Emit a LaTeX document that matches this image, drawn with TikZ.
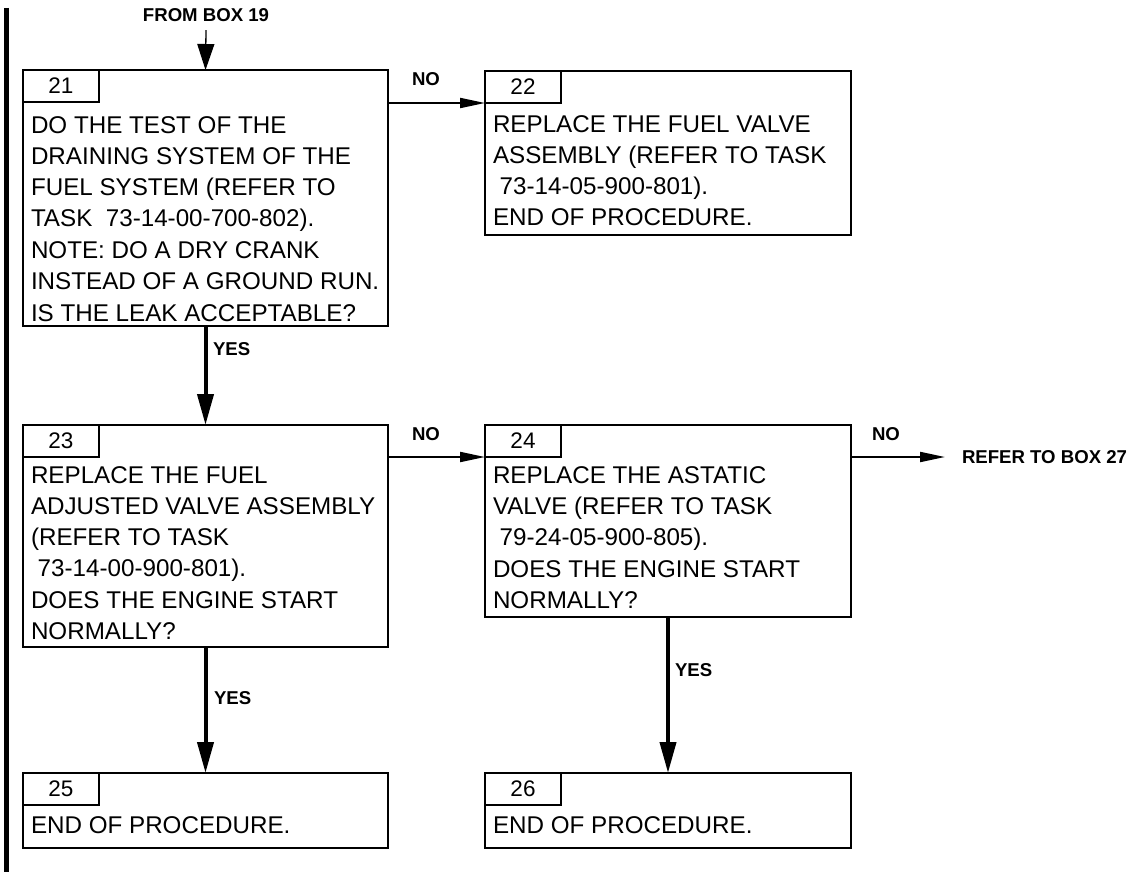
\documentclass[tikz,border=0pt]{standalone}
\usepackage{fontspec}
\setmainfont{Liberation Sans}
\usetikzlibrary{arrows.meta}
\begin{document}
\begin{tikzpicture}[x=1pt,y=-1pt,
  box/.style={draw, line width=2pt, inner sep=0pt, outer sep=0pt, anchor=north west},
  tab/.style={draw, line width=2pt, inner sep=0pt, outer sep=0pt, anchor=north west,
    minimum width=76pt, minimum height=32pt, font=\fontsize{22.5}{25}\selectfont},
  body/.style={anchor=base west, inner sep=0pt, outer sep=0pt, font=\fontsize{24.2}{31}\selectfont},
  lbl/.style={font=\bfseries\fontsize{18.6}{21}\selectfont, inner sep=0pt, outer sep=0pt},
  flow/.style={line width=4pt, -{Triangle[length=31pt,width=16pt]}},
  side/.style={line width=2pt, -{Triangle[length=25pt,width=10pt]}},
  feed/.style={line width=1.3pt, -{Triangle[length=26pt,width=17pt]}},
]
\useasboundingbox (0,0) rectangle (1129,875);

% change bar along the left margin
\draw[line width=4.5pt] (6.5,8) -- (6.5,872);

% box 21
\node[box, minimum width=365pt, minimum height=256pt] (b21) at (23,70) {};
\node[tab] (t21) at (b21.north west) {21};
\node[body] (x21) at (31,133) {\begin{tabular}[t]{@{}l@{}}DO THE TEST OF THE\\ DRAINING SYSTEM OF THE\\ FUEL SYSTEM (REFER TO\\ TASK\ \ 73-14-00-700-802).\\[1pt] NOTE: DO A DRY CRANK\\ INSTEAD OF A GROUND RUN.\\[1pt] IS THE LEAK ACCEPTABLE?\end{tabular}};

% box 22
\node[box, minimum width=366pt, minimum height=164pt] (b22) at (485,71) {};
\node[tab] (t22) at (b22.north west) {22};
\node[body] (x22) at (493,132) {\begin{tabular}[t]{@{}l@{}}REPLACE THE FUEL VALVE\\ ASSEMBLY (REFER TO TASK\\ \ 73-14-05-900-801).\\ END OF PROCEDURE.\end{tabular}};

% box 23
\node[box, minimum width=365pt, minimum height=222pt] (b23) at (23,425) {};
\node[tab] (t23) at (b23.north west) {23};
\node[body] (x23) at (31,483) {\begin{tabular}[t]{@{}l@{}}REPLACE THE FUEL\\ ADJUSTED VALVE ASSEMBLY\\ (REFER TO TASK\\ \ 73-14-00-900-801).\\[1pt] DOES THE ENGINE START\\ NORMALLY?\end{tabular}};

% box 24
\node[box, minimum width=366pt, minimum height=192pt] (b24) at (485,425) {};
\node[tab] (t24) at (b24.north west) {24};
\node[body] (x24) at (493,483) {\begin{tabular}[t]{@{}l@{}}REPLACE THE ASTATIC\\ VALVE (REFER TO TASK\\ \ 79-24-05-900-805).\\[1pt] DOES THE ENGINE START\\ NORMALLY?\end{tabular}};

% box 25
\node[box, minimum width=365pt, minimum height=75pt] (b25) at (23,773) {};
\node[tab] (t25) at (b25.north west) {25};
\node[body] (x25) at (31,833) {END OF PROCEDURE.};

% box 26
\node[box, minimum width=366pt, minimum height=75pt] (b26) at (485,773) {};
\node[tab] (t26) at (b26.north west) {26};
\node[body] (x26) at (493,833) {END OF PROCEDURE.};

% entry and exit labels
\node[lbl, anchor=base, inner ysep=8pt] (f19) at (206,22) {FROM BOX 19};
\node[lbl, anchor=west, inner xsep=17pt] (r27) at (945,457) {REFER TO BOX 27};

% connectors
\draw[feed] (f19.south) -- (b21.north);
\draw[side] (b21.east |- t22.south) -- (t22.south west);
\draw[side] (b23.east |- t24.south) -- (t24.south west);
\draw[side] (b24.east |- r27.west) -- (r27.west);
\draw[flow] (b21.south) -- (b23.north);
\draw[flow] (b23.south) -- (b25.north);
\draw[flow] (b24.south) -- (b26.north);

% connector labels
\node[lbl, anchor=base west] (n1) at (412,85) {NO};
\node[lbl, anchor=base west] (n2) at (412,440) {NO};
\node[lbl, anchor=base west] (n3) at (872,440) {NO};
\node[lbl, anchor=base west] (y1) at (213,355) {YES};
\node[lbl, anchor=base west] (y2) at (214,704) {YES};
\node[lbl, anchor=base west] (y3) at (675,676) {YES};
\end{tikzpicture}
\end{document}
